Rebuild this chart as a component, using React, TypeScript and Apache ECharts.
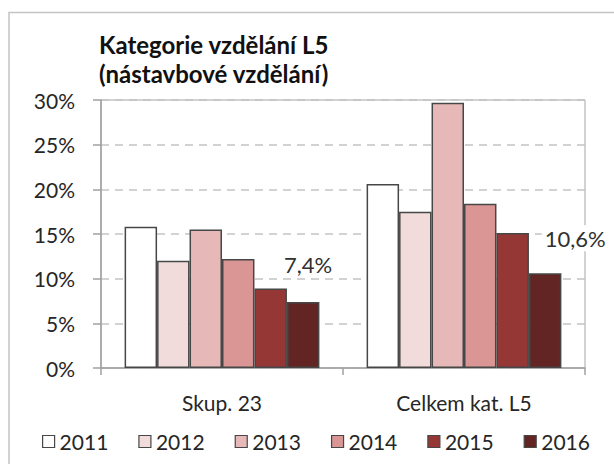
import React, { useEffect, useRef } from "react";
import * as echarts from "echarts";

const categories = ["Skup. 23", "Celkem kat. L5"];
const years = ["2011", "2012", "2013", "2014", "2015", "2016"];
const values2011 = [15.8, 20.6];
const values2012 = [12.0, 17.5];
const values2013 = [15.5, 29.7];
const values2014 = [12.2, 18.4];
const values2015 = [8.9, 15.1];
const values2016 = [7.4, 10.6];
const seriesValues = [values2011, values2012, values2013, values2014, values2015, values2016];
const yTicks = { min: 0, max: 30, interval: 5 };

const colors = ["#ffffff", "#f2dcdb", "#e6b9b8", "#d99694", "#953735", "#632523"];
const labelOffsets = [
  [5, -24],
  [30, -22],
];

const FONT = "Lato, 'Open Sans', sans-serif";

export default function App() {
  const ref = useRef<HTMLDivElement>(null);
  useEffect(() => {
    document.body.style.margin = "0";
    if (!ref.current) return;
    const chart = echarts.init(ref.current, null, { renderer: "svg" });
    const series = years.map((y, si) => ({
      name: y,
      type: "bar",
      barGap: "0%",
      barCategoryGap: "19.5%",
      itemStyle: { color: colors[si], borderColor: "#474747", borderWidth: 1.5 },
      data: seriesValues[si].map((v, ci) =>
        si === years.length - 1
          ? {
              value: v,
              label: {
                show: true,
                position: "top",
                distance: 0,
                offset: labelOffsets[ci],
                formatter: (p: any) => p.value.toFixed(1).replace(".", ",") + "%",
                fontFamily: FONT,
                fontSize: 22,
                lineHeight: 22,
                color: "#303030",
                backgroundColor: "#ffffff",
                padding: [2, 3, 2, 3],
              },
            }
          : v
      ),
    }));
    chart.setOption({
      animation: false,
      backgroundColor: "#ffffff",
      textStyle: { fontFamily: FONT },
      title: {
        text: "Kategorie vzdělání L5\n(nástavbové vzdělání)",
        left: 99,
        top: 30,
        padding: 0,
        textStyle: {
          fontFamily: FONT,
          fontSize: 24,
          fontWeight: "bold",
          lineHeight: 29,
          color: "#111111",
        },
      },
      legend: {
        data: years,
        left: 42,
        top: 430,
        padding: 0,
        itemWidth: 12,
        itemHeight: 12,
        itemGap: 30,
        icon: "rect",
        itemStyle: { borderWidth: 1.2 },
        textStyle: { fontFamily: FONT, fontSize: 21, color: "#262626", lineHeight: 23 },
      },
      grid: {
        left: 101,
        right: 29,
        top: 100,
        bottom: 96,
        show: true,
        borderColor: "#a6a6a6",
        borderWidth: 1,
        backgroundColor: "transparent",
      },
      xAxis: {
        type: "category",
        data: categories,
        axisLine: { show: true, lineStyle: { color: "#a0a0a0", width: 1.5 } },
        axisTick: { show: true, length: 7, lineStyle: { color: "#a0a0a0", width: 1.5 } },
        axisLabel: { fontFamily: FONT, fontSize: 21, color: "#262626", margin: 24 },
      },
      yAxis: {
        type: "value",
        min: yTicks.min,
        max: yTicks.max,
        interval: yTicks.interval,
        axisLine: { show: true, lineStyle: { color: "#a0a0a0", width: 1.5 } },
        axisTick: { show: true, length: 8, lineStyle: { color: "#a0a0a0", width: 1.5 } },
        axisLabel: {
          fontFamily: FONT,
          fontSize: 21,
          color: "#262626",
          margin: 26,
          formatter: "{value}%",
        },
        splitLine: {
          show: true,
          lineStyle: { color: "#c4c4c4", width: 1.5, type: [8, 6] },
        },
      },
      graphic: [
        {
          type: "rect",
          shape: { x: 9, y: 12.5, width: 700, height: 600 },
          style: { fill: "none", stroke: "#c4c4c4", lineWidth: 1.5 },
          silent: true,
          z: -1,
        },
      ],
      series,
    });
    return () => chart.dispose();
  }, []);
  return <div ref={ref} style={{ width: 614, height: 464 }} />;
}
